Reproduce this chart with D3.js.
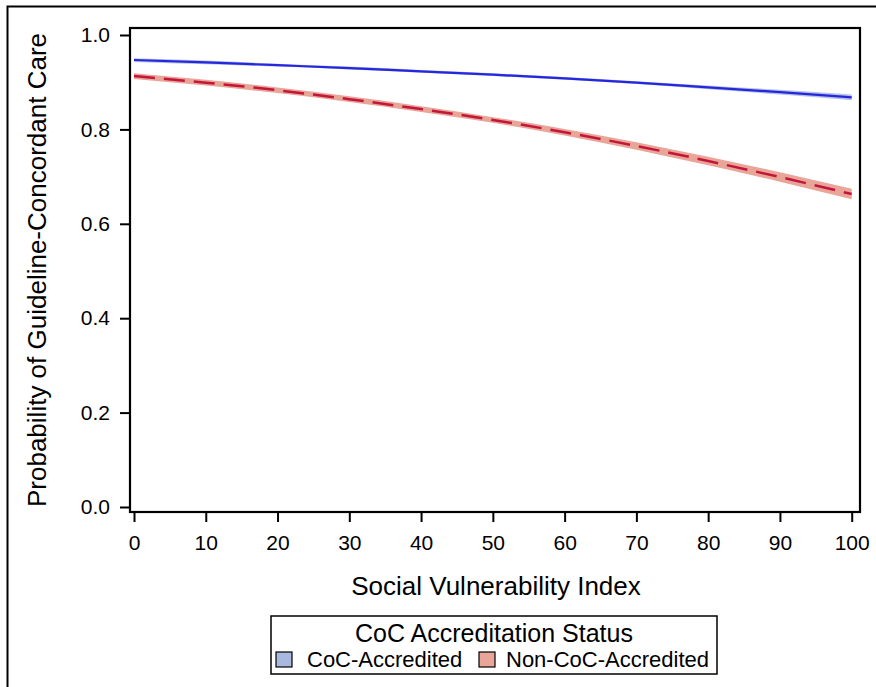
<!DOCTYPE html>
<html>
<head>
<meta charset="utf-8">
<script src="https://cdn.jsdelivr.net/npm/d3@7"></script>
<style>
  html, body { margin: 0; padding: 0; background: #fff; }
  svg { display: block; font-family: "Liberation Sans", Arial, Helvetica, sans-serif; }
</style>
</head>
<body>
<svg id="chart" width="876" height="687"></svg>
<script>
// ---- data ----
const svi = [0, 10, 20, 30, 40, 50, 60, 70, 80, 90, 100];
const cocMean  = [0.947, 0.942, 0.936, 0.930, 0.923, 0.916, 0.908, 0.899, 0.889, 0.879, 0.868];
const cocLower = [0.943, 0.938, 0.933, 0.927, 0.920, 0.913, 0.905, 0.896, 0.885, 0.874, 0.862];
const cocUpper = [0.951, 0.946, 0.939, 0.933, 0.926, 0.919, 0.911, 0.902, 0.893, 0.884, 0.874];
const nonMean  = [0.913, 0.899, 0.883, 0.864, 0.843, 0.820, 0.794, 0.765, 0.733, 0.699, 0.663];
const nonLower = [0.907, 0.893, 0.877, 0.858, 0.837, 0.814, 0.787, 0.757, 0.724, 0.689, 0.652];
const nonUpper = [0.919, 0.905, 0.889, 0.870, 0.849, 0.826, 0.801, 0.773, 0.742, 0.709, 0.674];
const xTicks = [0, 10, 20, 30, 40, 50, 60, 70, 80, 90, 100];
const yTicks = [0.0, 0.2, 0.4, 0.6, 0.8, 1.0];
const seriesNames = ["CoC-Accredited", "Non-CoC-Accredited"];
const xTitle = "Social Vulnerability Index";
const yTitle = "Probability of Guideline-Concordant Care";
const legendTitle = "CoC Accreditation Status";

const colors = {
  cocLine: "#2626dc", cocBand: "#b4c2e6", cocSwatch: "#a8b8de",
  nonLine: "#c3163a", nonBand: "#e8a598", nonSwatch: "#e8a598"
};

const svg = d3.select("#chart");

// outer frame
svg.append("rect").attr("x", 7.5).attr("y", 6.5).attr("width", 900).attr("height", 700)
  .attr("fill", "none").attr("stroke", "#000").attr("stroke-width", 2);

const frame = {left: 130, right: 860, top: 28, bottom: 512};
const x = d3.scaleLinear().domain([0, 100]).range([134, 851.7]);
const y = d3.scaleLinear().domain([0, 1]).range([507, 35]);

function rows(mean, lo, hi) {
  return svi.map((v, i) => ({x: v, m: mean[i], lo: lo[i], hi: hi[i]}));
}
const coc = rows(cocMean, cocLower, cocUpper);
const non = rows(nonMean, nonLower, nonUpper);

const area = d3.area().curve(d3.curveMonotoneX)
  .x(d => x(d.x)).y0(d => y(d.lo)).y1(d => y(d.hi));
const line = d3.line().curve(d3.curveMonotoneX)
  .x(d => x(d.x)).y(d => y(d.m));

const g = svg.append("g");
g.append("path").datum(non).attr("d", area).attr("fill", colors.nonBand);
g.append("path").datum(coc).attr("d", area).attr("fill", colors.cocBand);
g.append("path").datum(non).attr("d", line).attr("fill", "none")
  .attr("stroke", colors.nonLine).attr("stroke-width", 2.5).attr("stroke-dasharray", "21,9");
g.append("path").datum(coc).attr("d", line).attr("fill", "none")
  .attr("stroke", colors.cocLine).attr("stroke-width", 2.2);

// axes
const xAxis = d3.axisBottom(x).tickValues(xTicks).tickSize(10).tickPadding(13)
  .tickFormat(d3.format("d"));
const yAxis = d3.axisLeft(y).tickValues(yTicks).tickSize(10).tickPadding(10)
  .tickFormat(d3.format(".1f"));

const gx = svg.append("g").attr("transform", `translate(0,${frame.bottom})`).call(xAxis);
const gy = svg.append("g").attr("transform", `translate(${frame.left},0)`).call(yAxis);
[gx, gy].forEach(a => {
  a.select(".domain").remove();
  a.selectAll(".tick line").attr("stroke", "#000").attr("stroke-width", 2);
  a.selectAll(".tick text").attr("fill", "#000").style("font-size", "21px")
    .style("font-family", '"Liberation Sans", Arial, sans-serif');
});

// plot frame
svg.append("rect").attr("x", frame.left).attr("y", frame.top)
  .attr("width", frame.right - frame.left).attr("height", frame.bottom - frame.top)
  .attr("fill", "none").attr("stroke", "#000").attr("stroke-width", 2.2);

// axis titles
svg.append("text").attr("x", 496).attr("y", 595).attr("text-anchor", "middle")
  .style("font-size", "26px").attr("fill", "#000").text(xTitle);
svg.append("text").attr("transform", "translate(46,270) rotate(-90)")
  .attr("text-anchor", "middle").style("font-size", "26px").attr("fill", "#000").text(yTitle);

// legend
const lg = svg.append("g");
lg.append("rect").attr("x", 271).attr("y", 616).attr("width", 446).attr("height", 58)
  .attr("fill", "#fff").attr("stroke", "#000").attr("stroke-width", 1.5);
lg.append("text").attr("x", 494).attr("y", 642).attr("text-anchor", "middle")
  .style("font-size", "25px").attr("fill", "#000").text(legendTitle);
const items = [
  {name: seriesNames[0], fill: colors.cocSwatch, sx: 276, tx: 307},
  {name: seriesNames[1], fill: colors.nonSwatch, sx: 479, tx: 506}
];
items.forEach(it => {
  lg.append("rect").attr("x", it.sx).attr("y", 652).attr("width", 16).attr("height", 15)
    .attr("fill", it.fill).attr("stroke", "#000").attr("stroke-width", 1.2);
  lg.append("text").attr("x", it.tx).attr("y", 667).style("font-size", "22px")
    .attr("fill", "#000").text(it.name);
});
</script>
</body>
</html>
